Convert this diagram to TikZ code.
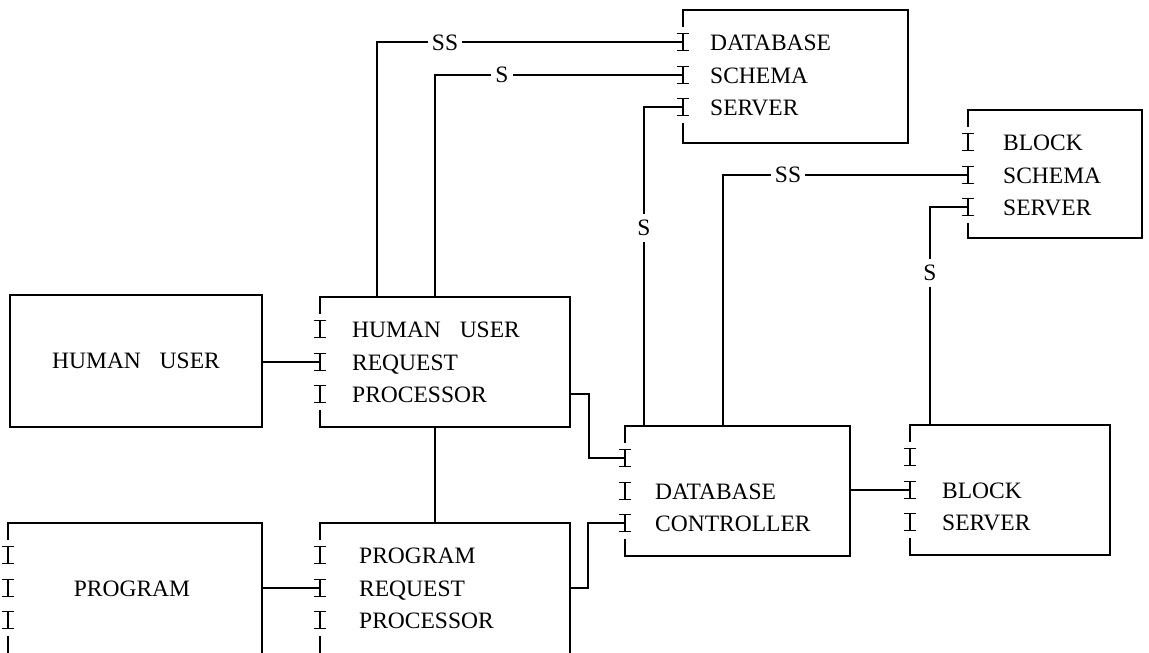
\documentclass[tikz,border=0pt]{standalone}
\usepackage{fontspec}
\setmainfont{Liberation Serif}
\usetikzlibrary{calc}

\tikzset{
  frame/.style={line width=1.7pt},
  wire/.style={line width=1.7pt},
  boxarea/.style={inner sep=0pt, outer sep=0pt, anchor=north west},
  plainbox/.style={boxarea, draw, line width=1.7pt, font=\fontsize{23.5}{28}\selectfont},
  txt/.style={inner sep=0pt, anchor=base west, font=\fontsize{23.5}{28}\selectfont},
  tag/.style={fill=white, inner xsep=4pt, inner ysep=6pt, font=\fontsize{23.5}{28}\selectfont},
}

% Outline of a module whose left side carries three interface ports (I-beams)
\newcommand\portframe[1]{%
  \foreach \k/\d in {1/32,2/65,3/97}{%
    \coordinate (#1-p\k) at ($(#1.north west)+(0,\d)$);
    \draw[frame] ($(#1-p\k)+(0,-8.5)$) -- ($(#1-p\k)+(0,8.5)$)
                 ($(#1-p\k)+(-6,-8.5)$) -- ($(#1-p\k)+(6,-8.5)$)
                 ($(#1-p\k)+(-6,8.5)$) -- ($(#1-p\k)+(6,8.5)$);
  }%
  \draw[frame] ($(#1-p1)+(0,-15.5)$) -- (#1.north west) -- (#1.north east)
     -- (#1.south east) -- (#1.south west) -- ($(#1-p3)+(0,15.5)$);
}

\begin{document}
\begin{tikzpicture}[x=1pt, y=-1pt]
\useasboundingbox (0,0) rectangle (1149,653);
\clip (0,0) rectangle (1149,653);

% modules
\node[plainbox, minimum width=252pt, minimum height=132pt] (hu) at (10,295) {HUMAN\hspace{0.8em}USER};
\node[boxarea, minimum width=250pt, minimum height=130pt] (hurp) at (320,297) {};
\node[boxarea, minimum width=254pt, minimum height=160pt] (prog) at (8,523) {};
\node[boxarea, minimum width=250pt, minimum height=160pt] (prp) at (320,523) {};
\node[boxarea, minimum width=225pt, minimum height=130pt] (dc) at (625,426) {};
\node[boxarea, minimum width=200pt, minimum height=130pt] (bs) at (910,425) {};
\node[boxarea, minimum width=225pt, minimum height=133pt] (dss) at (683,10) {};
\node[boxarea, minimum width=174pt, minimum height=128pt] (bss) at (968,110) {};

\portframe{hurp}
\portframe{prog}
\portframe{prp}
\portframe{dc}
\portframe{bs}
\portframe{dss}
\portframe{bss}

% module names
\node[txt] (dss-t1) at ($(dss-p1)+(27,8)$) {DATABASE};
\node[txt] (dss-t2) at ($(dss-p2)+(27,8)$) {SCHEMA};
\node[txt] (dss-t3) at ($(dss-p3)+(27,8)$) {SERVER};

\node[txt] (bss-t1) at ($(bss-p1)+(35,8)$) {BLOCK};
\node[txt] (bss-t2) at ($(bss-p2)+(35,8)$) {SCHEMA};
\node[txt] (bss-t3) at ($(bss-p3)+(35,8)$) {SERVER};

\node[txt] (hurp-t1) at ($(hurp-p1)+(32,8)$) {HUMAN\hspace{0.8em}USER};
\node[txt] (hurp-t2) at ($(hurp-p2)+(32,8)$) {REQUEST};
\node[txt] (hurp-t3) at ($(hurp-p3)+(32,8)$) {PROCESSOR};

\node[txt] (dc-t2) at ($(dc-p2)+(30,8)$) {DATABASE};
\node[txt] (dc-t3) at ($(dc-p3)+(30,8)$) {CONTROLLER};

\node[txt] (bs-t2) at ($(bs-p2)+(32,8)$) {BLOCK};
\node[txt] (bs-t3) at ($(bs-p3)+(32,8)$) {SERVER};

\node[txt] (prp-t1) at ($(prp-p1)+(39,8)$) {PROGRAM};
\node[txt] (prp-t2) at ($(prp-p2)+(39,8)$) {REQUEST};
\node[txt] (prp-t3) at ($(prp-p3)+(39,8)$) {PROCESSOR};

\node[txt, anchor=base] (prog-t) at ($(prog-p2)+(124,8)$) {PROGRAM};

% connections
\draw[wire] ($(hurp.north west)+(57,0)$) |- (dss-p1);
\draw[wire] ($(hurp.north west)+(115,0)$) |- (dss-p2);
\draw[wire] ($(dc.north west)+(19,0)$) |- (dss-p3);
\draw[wire] ($(dc.north west)+(98,0)$) |- (bss-p2);
\draw[wire] ($(bs.north west)+(20,0)$) |- (bss-p3);
\draw[wire] (hu.east |- hurp-p2) -- (hurp-p2);
\draw[wire] (prog.east |- prp-p2) -- (prp-p2);
\draw[wire] (hurp.east |- hurp-p3) -- ++(19,0) |- (dc-p1);
\draw[wire] (prp.east |- prp-p2) -- ++(18,0) |- (dc-p3);
\draw[wire] ($(hurp.south west)+(115,0)$) -- ($(prp.north west)+(115,0)$);
\draw[wire] (dc.east |- bs-p2) -- (bs-p2);

% link labels
\node[tag] (lab-ss1) at (445,43) {SS};
\node[tag] (lab-s1) at (502,75) {S};
\node[tag] (lab-s2) at (644,228) {S};
\node[tag] (lab-ss2) at (788,175) {SS};
\node[tag] (lab-s3) at (930,273) {S};
\end{tikzpicture}
\end{document}
